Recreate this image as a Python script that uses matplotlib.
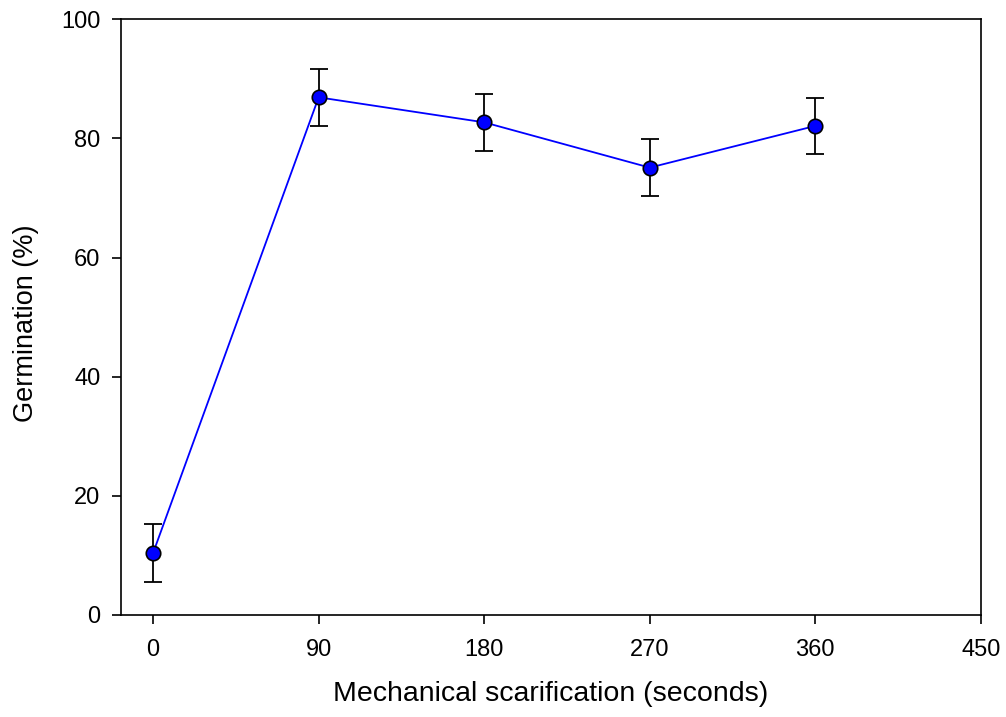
import matplotlib
matplotlib.use("Agg")
import matplotlib.pyplot as plt

plt.rcParams['font.family'] = ['Liberation Sans', 'DejaVu Sans']

time_s = [0, 90, 180, 270, 360]
germination = [10.4, 86.9, 82.7, 75.1, 82.1]
err = [4.8, 4.75, 4.75, 4.75, 4.75]
xticks = [0, 90, 180, 270, 360, 450]
yticks = [0, 20, 40, 60, 80, 100]

fig = plt.figure(figsize=(10.06, 7.17), dpi=100)
ax = fig.add_axes([0.12, 0.1423, 0.855, 0.8308])

ax.errorbar(time_s, germination, yerr=err, fmt='none', ecolor='black',
            elinewidth=1.3, capsize=6.2, capthick=1.3, zorder=2)
ax.plot(time_s, germination, color='#0000ff', linewidth=1.3, zorder=3)
ax.plot(time_s, germination, 'o', markersize=10.4, markerfacecolor='#0000ff',
        markeredgecolor='black', markeredgewidth=1.2, linestyle='none', zorder=4)

ax.set_xlim(-17.6, 450)
ax.set_ylim(0, 100)
ax.set_xticks(xticks)
ax.set_yticks(yticks)
ax.tick_params(direction='out', length=6.5, width=1.2, labelsize=17)
ax.tick_params(axis='x', pad=10.5)
ax.tick_params(axis='y', pad=8)
for s in ax.spines.values():
    s.set_linewidth(1.2)

ax.set_xlabel('Mechanical scarification (seconds)', fontsize=20.5, labelpad=15)
ax.set_ylabel('Germination (%)', fontsize=19.5, labelpad=14)
ax.yaxis.set_label_coords(-0.095, 0.49)

fig.savefig('out.png', dpi=100)
